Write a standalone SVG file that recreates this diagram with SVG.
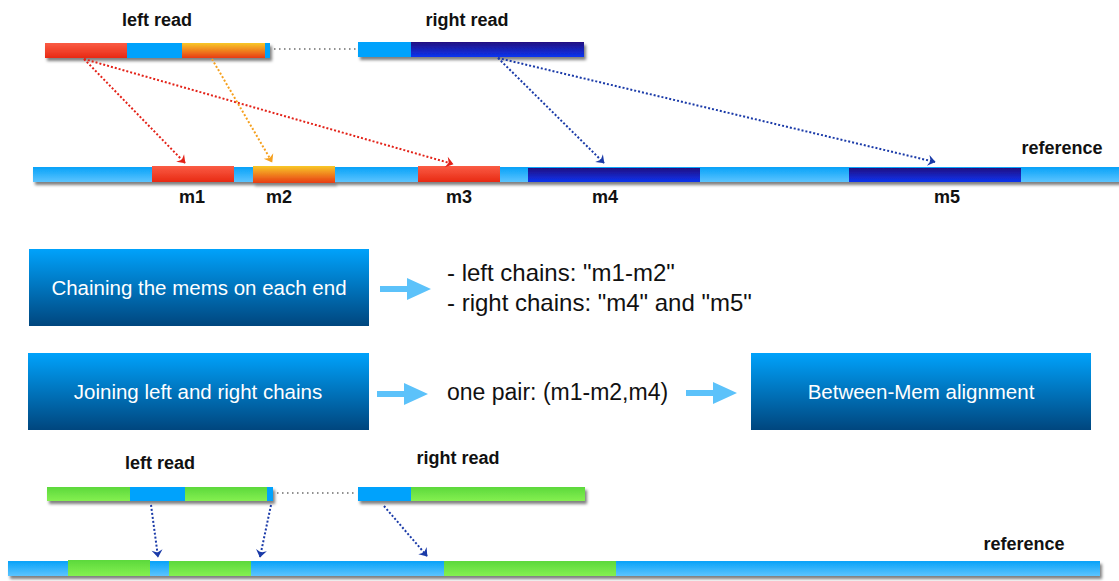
<svg xmlns="http://www.w3.org/2000/svg" width="1119" height="581" viewBox="0 0 1119 581">
<defs>
<linearGradient id="gRed" x1="0" y1="0" x2="0" y2="1"><stop offset="0" stop-color="#fa5c44"/><stop offset="1" stop-color="#e82a14"/></linearGradient>
<linearGradient id="gOrange" x1="0" y1="0" x2="0" y2="1"><stop offset="0" stop-color="#f8c828"/><stop offset="1" stop-color="#e83c14"/></linearGradient>
<linearGradient id="gDark" x1="0" y1="0" x2="0" y2="1"><stop offset="0" stop-color="#221080"/><stop offset="1" stop-color="#0c34f0"/></linearGradient>
<linearGradient id="gRef" x1="0" y1="0" x2="0" y2="1"><stop offset="0" stop-color="#06a2f8"/><stop offset="1" stop-color="#5cc4ff"/></linearGradient>
<linearGradient id="gGreen" x1="0" y1="0" x2="0" y2="1"><stop offset="0" stop-color="#5cd83c"/><stop offset="1" stop-color="#84f050"/></linearGradient>
<linearGradient id="gBox" x1="0" y1="0" x2="0" y2="1"><stop offset="0" stop-color="#00a2fb"/><stop offset="1" stop-color="#00467e"/></linearGradient>
<filter id="sh" x="-5%" y="-50%" width="110%" height="250%"><feDropShadow dx="2" dy="3" stdDeviation="1.6" flood-color="#000" flood-opacity="0.5"/></filter>
<marker id="aRed" viewBox="0 0 10 10" refX="9" refY="5" markerWidth="5" markerHeight="5" orient="auto" markerUnits="userSpaceOnUse" overflow="visible"><path d="M-5,-6 L10,5 L-5,16 L0,5 Z" fill="#e32218"/></marker>
<marker id="aOr" viewBox="0 0 10 10" refX="9" refY="5" markerWidth="5" markerHeight="5" orient="auto" markerUnits="userSpaceOnUse" overflow="visible"><path d="M-5,-6 L10,5 L-5,16 L0,5 Z" fill="#f5a01e"/></marker>
<marker id="aBl" viewBox="0 0 10 10" refX="9" refY="5" markerWidth="5" markerHeight="5" orient="auto" markerUnits="userSpaceOnUse" overflow="visible"><path d="M-5,-6 L10,5 L-5,16 L0,5 Z" fill="#1a3aa8"/></marker>
<path id="barrow" d="M0,-3 L27,-3 L27,-11 L51,0 L27,11 L27,3 L0,3 Z"/>
</defs>
<style>
.lbl{font-family:"Liberation Sans",Arial,sans-serif;font-weight:bold;font-size:18px;fill:#111;text-anchor:middle}
.btxt{font-family:"Liberation Sans",Arial,sans-serif;font-size:20.5px;fill:#fff;text-anchor:middle}
.ttxt{font-family:"Liberation Sans",Arial,sans-serif;font-size:23px;fill:#111}
.ttxt2{font-family:"Liberation Sans",Arial,sans-serif;font-size:24px;fill:#111}
.dot{fill:none;stroke-width:2;stroke-dasharray:2 2}
.rd{stroke:#e32218}.or{stroke:#f5a01e}.bl{stroke:#1a3aa8}
.gap{stroke:#222;stroke-width:1.2;stroke-dasharray:1.5 3.5;fill:none}
.ba{fill:#5cc2fa}
</style>
<rect width="1119" height="581" fill="#fff"/>

<!-- top section -->
<g id="top-left-read">
<text class="lbl" x="157" y="26">left read</text>
<g filter="url(#sh)">
<rect x="45" y="43" width="225" height="15" fill="#00a2fc"/>
<rect x="45" y="43" width="82" height="15" fill="url(#gRed)"/>
<rect x="182" y="43" width="83" height="15" fill="url(#gOrange)"/>
</g>
</g>
<g id="top-right-read">
<text class="lbl" x="467" y="26">right read</text>
<g filter="url(#sh)">
<rect x="358" y="42" width="226" height="15" fill="#00a2fc"/>
<rect x="411" y="42" width="173" height="15" fill="url(#gDark)"/>
</g>
</g>
<g id="top-reference">
<text class="lbl" x="1062" y="154">reference</text>
<g filter="url(#sh)">
<rect x="33" y="167" width="1090" height="15" fill="url(#gRef)"/>
<rect x="152" y="166" width="82" height="16" fill="url(#gRed)"/>
<rect x="253" y="166" width="82" height="17" fill="url(#gOrange)"/>
<rect x="418" y="166" width="82" height="16" fill="url(#gRed)"/>
<rect x="528" y="168" width="172" height="14" fill="url(#gDark)"/>
<rect x="849" y="168" width="172" height="14" fill="url(#gDark)"/>
</g>
<text class="lbl" x="192" y="203">m1</text>
<text class="lbl" x="279" y="203">m2</text>
<text class="lbl" x="459" y="203">m3</text>
<text class="lbl" x="605" y="203">m4</text>
<text class="lbl" x="947" y="203">m5</text>
</g>

<!-- middle section -->
<g id="box-chaining">
<rect x="29" y="249" width="340" height="77" fill="url(#gBox)"/>
<text class="btxt" x="199" y="295">Chaining the mems on each end</text>
</g>
<g id="chains-result">
<text class="ttxt2" x="447" y="281">- left chains: "m1-m2"</text>
<text class="ttxt2" x="447" y="311">- right chains: "m4" and "m5"</text>
</g>
<g id="box-joining">
<rect x="28" y="353" width="341" height="77" fill="url(#gBox)"/>
<text class="btxt" x="198" y="399">Joining left and right chains</text>
</g>
<g id="pair-result">
<text class="ttxt" x="447" y="400">one pair: (m1-m2,m4)</text>
</g>
<g id="box-between">
<rect x="751" y="353" width="340" height="77" fill="url(#gBox)"/>
<text class="btxt" x="921" y="399">Between-Mem alignment</text>
</g>

<!-- bottom section -->
<g id="bottom-left-read">
<text class="lbl" x="160" y="469">left read</text>
<g filter="url(#sh)">
<rect x="47" y="487" width="226" height="14" fill="#00a2fc"/>
<rect x="47" y="487" width="83" height="14" fill="url(#gGreen)"/>
<rect x="185" y="487" width="82" height="14" fill="url(#gGreen)"/>
</g>
</g>
<g id="bottom-right-read">
<text class="lbl" x="458" y="464">right read</text>
<g filter="url(#sh)">
<rect x="358" y="487" width="227" height="14" fill="#00a2fc"/>
<rect x="411" y="487" width="174" height="14" fill="url(#gGreen)"/>
</g>
</g>
<g id="bottom-reference">
<text class="lbl" x="1024" y="550">reference</text>
<g filter="url(#sh)">
<rect x="8" y="561" width="1092" height="15" fill="url(#gRef)"/>
<rect x="68" y="560" width="82" height="16" fill="url(#gGreen)"/>
<rect x="169" y="561" width="82" height="15" fill="url(#gGreen)"/>
<rect x="444" y="561" width="172" height="15" fill="url(#gGreen)"/>
</g>
</g>

<g id="connectors">
<line class="gap" x1="274" y1="49" x2="357" y2="49"/>
<line class="gap" x1="277" y1="493" x2="357" y2="493"/>
<path class="dot rd" d="M84,59 L185,163" marker-end="url(#aRed)"/>
<path class="dot rd" d="M84,59 L453,164" marker-end="url(#aRed)"/>
<path class="dot or" d="M212,59 L272,162" marker-end="url(#aOr)"/>
<path class="dot bl" d="M498,58 L604,163" marker-end="url(#aBl)"/>
<path class="dot bl" d="M498,58 L935,162" marker-end="url(#aBl)"/>
<path class="dot bl" d="M151,505 L158,557" marker-end="url(#aBl)"/>
<path class="dot bl" d="M271,505 L260,557" marker-end="url(#aBl)"/>
<path class="dot bl" d="M384,506 L427,556" marker-end="url(#aBl)"/>
<use href="#barrow" class="ba" x="380" y="289"/>
<use href="#barrow" class="ba" x="377" y="394"/>
<use href="#barrow" class="ba" x="686" y="393"/>
</g>
</svg>
